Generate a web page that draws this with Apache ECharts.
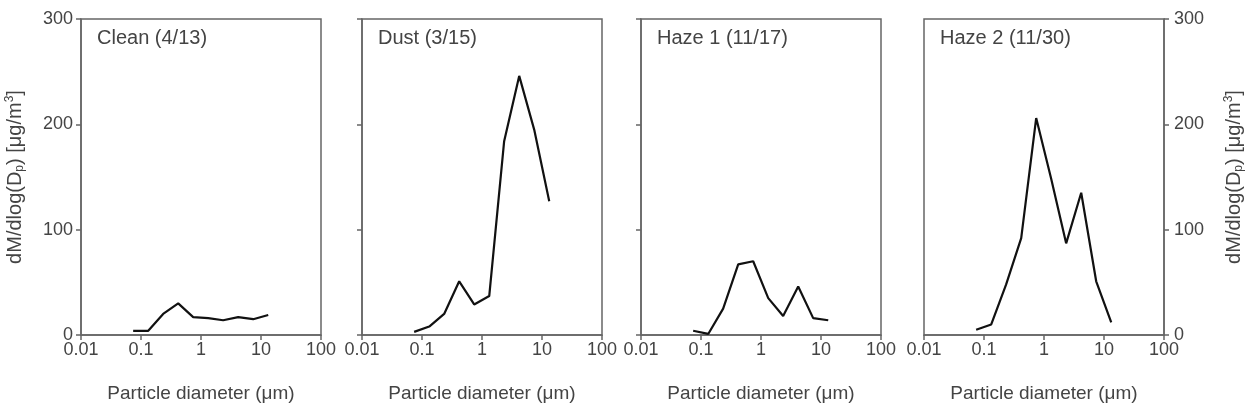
<!DOCTYPE html>
<html>
<head>
<meta charset="utf-8">
<script src="https://cdn.jsdelivr.net/npm/echarts@6/dist/echarts.min.js"></script>
<style>
  html, body { margin: 0; padding: 0; background: #fff; }
  #chart { width: 1248px; height: 408px; }
</style>
</head>
<body>
<div id="chart"></div>
<script>
// particle size bins (um), shared by all four samples
const diameters = [0.074, 0.132, 0.234, 0.417, 0.741, 1.32, 2.34, 4.17, 7.41, 13.2];

const clean = [4, 4, 20, 30, 17, 16, 14, 17, 15, 19];
const dust = [3, 8, 20, 51, 29, 37, 184, 246, 195, 127];
const haze1 = [4, 1, 25, 67, 70, 35, 18, 46, 16, 14];
const haze2 = [5, 10, 48, 92, 206, 148, 87, 135, 51, 12];

const panelTitles = ['Clean (4/13)', 'Dust (3/15)', 'Haze 1 (11/17)', 'Haze 2 (11/30)'];
const xTickLabels = { '0.01': '0.01', '0.1': '0.1', '1': '1', '10': '10', '100': '100' };

const allSeries = [clean, dust, haze1, haze2];
const gridLefts = [81, 362, 641, 924];

const font = "'Liberation Sans', Arial, Helvetica, sans-serif";
const axisColor = '#666';
const textColor = '#444';

const chart = echarts.init(document.getElementById('chart'));

const yName = 'dM/dlog(D{sub|p}) [μg/m{sup|3}]';
const yNameStyle = {
  fontSize: 20, color: textColor, fontFamily: font,
  rich: {
    sub: { fontSize: 12, color: textColor, fontFamily: font, verticalAlign: 'bottom', padding: [10, 0, 0, 0] },
    sup: { fontSize: 12, color: textColor, fontFamily: font, verticalAlign: 'top', padding: [0, 0, 8, 0] }
  }
};

const grids = gridLefts.map(l => ({
  left: l, top: 19, width: 240, height: 318,
  show: true, borderColor: axisColor, borderWidth: 1.5, backgroundColor: 'transparent'
}));

const xAxes = gridLefts.map((l, i) => ({
  gridIndex: i, type: 'log', logBase: 10, min: 0.01, max: 100,
  axisLine: { lineStyle: { color: axisColor, width: 1.5 } },
  axisTick: { length: 5, lineStyle: { color: axisColor, width: 1.5 } },
  axisLabel: {
    margin: 6, fontSize: 18, color: textColor, fontFamily: font,
    showMinLabel: true, showMaxLabel: true,
    formatter: v => xTickLabels[String(+v.toPrecision(3))] || ''
  },
  splitLine: { show: false },
  name: 'Particle diameter (μm)', nameLocation: 'middle', nameGap: 49,
  nameTextStyle: { fontSize: 19, color: textColor, fontFamily: font }
}));

const yAxes = gridLefts.map((l, i) => {
  const right = i === 3;
  const withLabels = i === 0 || i === 3;
  return {
    gridIndex: i, type: 'value', min: 0, max: 300, interval: 100,
    position: right ? 'right' : 'left',
    axisLine: { show: true, lineStyle: { color: axisColor, width: 1.5 } },
    axisTick: { show: true, length: 5, lineStyle: { color: axisColor, width: 1.5 } },
    axisLabel: { show: withLabels, margin: right ? 10 : 8, fontSize: 18, color: textColor, fontFamily: font },
    splitLine: { show: false },
    name: withLabels ? yName : '', nameLocation: 'middle', nameGap: right ? 59 : 55, nameRotate: 90,
    nameTextStyle: yNameStyle
  };
});

const series = allSeries.map((vals, i) => ({
  type: 'line', xAxisIndex: i, yAxisIndex: i,
  data: diameters.map((d, k) => [d, vals[k]]),
  symbol: 'none', lineStyle: { color: '#111', width: 2.2 }, silent: true
}));

const titles = panelTitles.map((t, i) => ({
  text: t, left: gridLefts[i] + 16, top: 28, padding: 0,
  textStyle: { fontSize: 20, fontWeight: 'normal', color: textColor, fontFamily: font }
}));

chart.setOption({
  animation: false,
  title: titles,
  grid: grids,
  xAxis: xAxes,
  yAxis: yAxes,
  series: series
});
</script>
</body>
</html>
